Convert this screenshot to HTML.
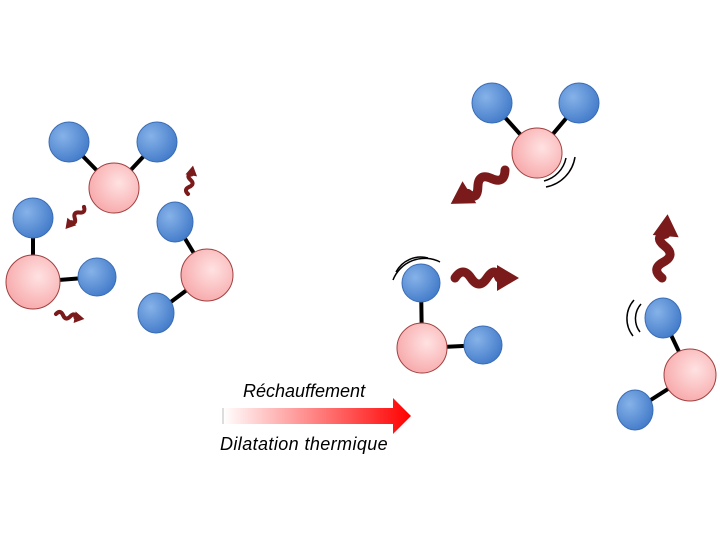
<!DOCTYPE html>
<html><head><meta charset="utf-8"><style>
html,body{margin:0;padding:0;background:#fff;}
svg{display:block;}
text{font-family:"Liberation Sans",sans-serif;font-style:italic;}
</style></head><body>
<svg width="720" height="540" viewBox="0 0 720 540" xmlns="http://www.w3.org/2000/svg">
<defs>
<radialGradient id="bl" cx="0.35" cy="0.35" r="0.75">
<stop offset="0" stop-color="#86b2e8"/><stop offset="1" stop-color="#3f78c8"/></radialGradient>
<radialGradient id="pk" cx="0.6" cy="0.4" r="0.75">
<stop offset="0" stop-color="#ffe2e2"/><stop offset="1" stop-color="#f6a0a2"/></radialGradient>
<linearGradient id="ar" x1="0" x2="1" y1="0" y2="0">
<stop offset="0" stop-color="#fff"/><stop offset="1" stop-color="#ff0000"/></linearGradient>
<g id="sq">
<path d="M0,0 q8,-12 16,0 t16,0 t12,0" fill="none" stroke="#7b1a1a" stroke-width="9" stroke-linecap="round"/>
<polygon points="42,-13 64,0 42,13" fill="#7b1a1a"/>
</g>
</defs>
<g stroke="#000" stroke-width="4">
<line x1="69" y1="142" x2="114" y2="188"/><line x1="157" y1="142" x2="114" y2="188"/>
<line x1="33" y1="218" x2="33" y2="282"/><line x1="33" y1="282" x2="97" y2="277"/>
<line x1="175" y1="222" x2="207" y2="275"/><line x1="207" y1="275" x2="156" y2="313"/>
<line x1="492" y1="103" x2="537" y2="153"/><line x1="579" y1="103" x2="537" y2="153"/>
<line x1="421" y1="283" x2="422" y2="348"/><line x1="422" y1="348" x2="483" y2="345"/>
<line x1="663" y1="318" x2="690" y2="375"/><line x1="690" y1="375" x2="635" y2="410"/>
</g>
<g stroke="#a04040" stroke-width="1" fill="url(#pk)">
<circle cx="114" cy="188" r="25"/><circle cx="33" cy="282" r="27"/><circle cx="207" cy="275" r="26"/>
<circle cx="537" cy="153" r="25"/><circle cx="422" cy="348" r="25"/><circle cx="690" cy="375" r="26"/>
</g>
<g stroke="#3b6db5" stroke-width="1" fill="url(#bl)">
<circle cx="69" cy="142" r="20"/><circle cx="157" cy="142" r="20"/>
<circle cx="33" cy="218" r="20"/><circle cx="97" cy="277" r="19"/>
<ellipse cx="175" cy="222" rx="18" ry="20"/><ellipse cx="156" cy="313" rx="18" ry="20"/>
<circle cx="492" cy="103" r="20"/><circle cx="579" cy="103" r="20"/>
<circle cx="421" cy="283" r="19"/><circle cx="483" cy="345" r="19"/>
<ellipse cx="663" cy="318" rx="18" ry="20"/><ellipse cx="635" cy="410" rx="18" ry="20"/>
</g>
<g fill="none" stroke="#000" stroke-width="1.5">
<path d="M544,181 A30,30 0 0 0 566,158"/><path d="M546,187 A36,36 0 0 0 575,157"/>
<path d="M396,272 A28,28 0 0 1 428,258"/><path d="M393,280 A34,34 0 0 1 440,262"/>
<path d="M641,304 A22,22 0 0 0 640,332"/><path d="M634,300 A28,28 0 0 0 633,336"/>
</g>
<use href="#sq" transform="translate(455,278)"/>
<use href="#sq" transform="translate(505,170) rotate(148)"/>
<use href="#sq" transform="translate(662,278) rotate(-85)"/>
<use href="#sq" transform="translate(84,207) rotate(130) scale(0.45)"/>
<use href="#sq" transform="translate(188,194) rotate(-80) scale(0.45)"/>
<use href="#sq" transform="translate(56,314) rotate(10) scale(0.45)"/>
<polygon points="223,408 393,408 393,398 411,416 393,434 393,424 223,424" fill="url(#ar)"/>
<line x1="223" y1="408" x2="223" y2="424" stroke="#ddd" stroke-width="2"/>
<text x="243" y="397" font-size="18">Réchauffement</text>
<text x="220" y="450" font-size="18" letter-spacing="0.4">Dilatation thermique</text>
</svg>
</body></html>
